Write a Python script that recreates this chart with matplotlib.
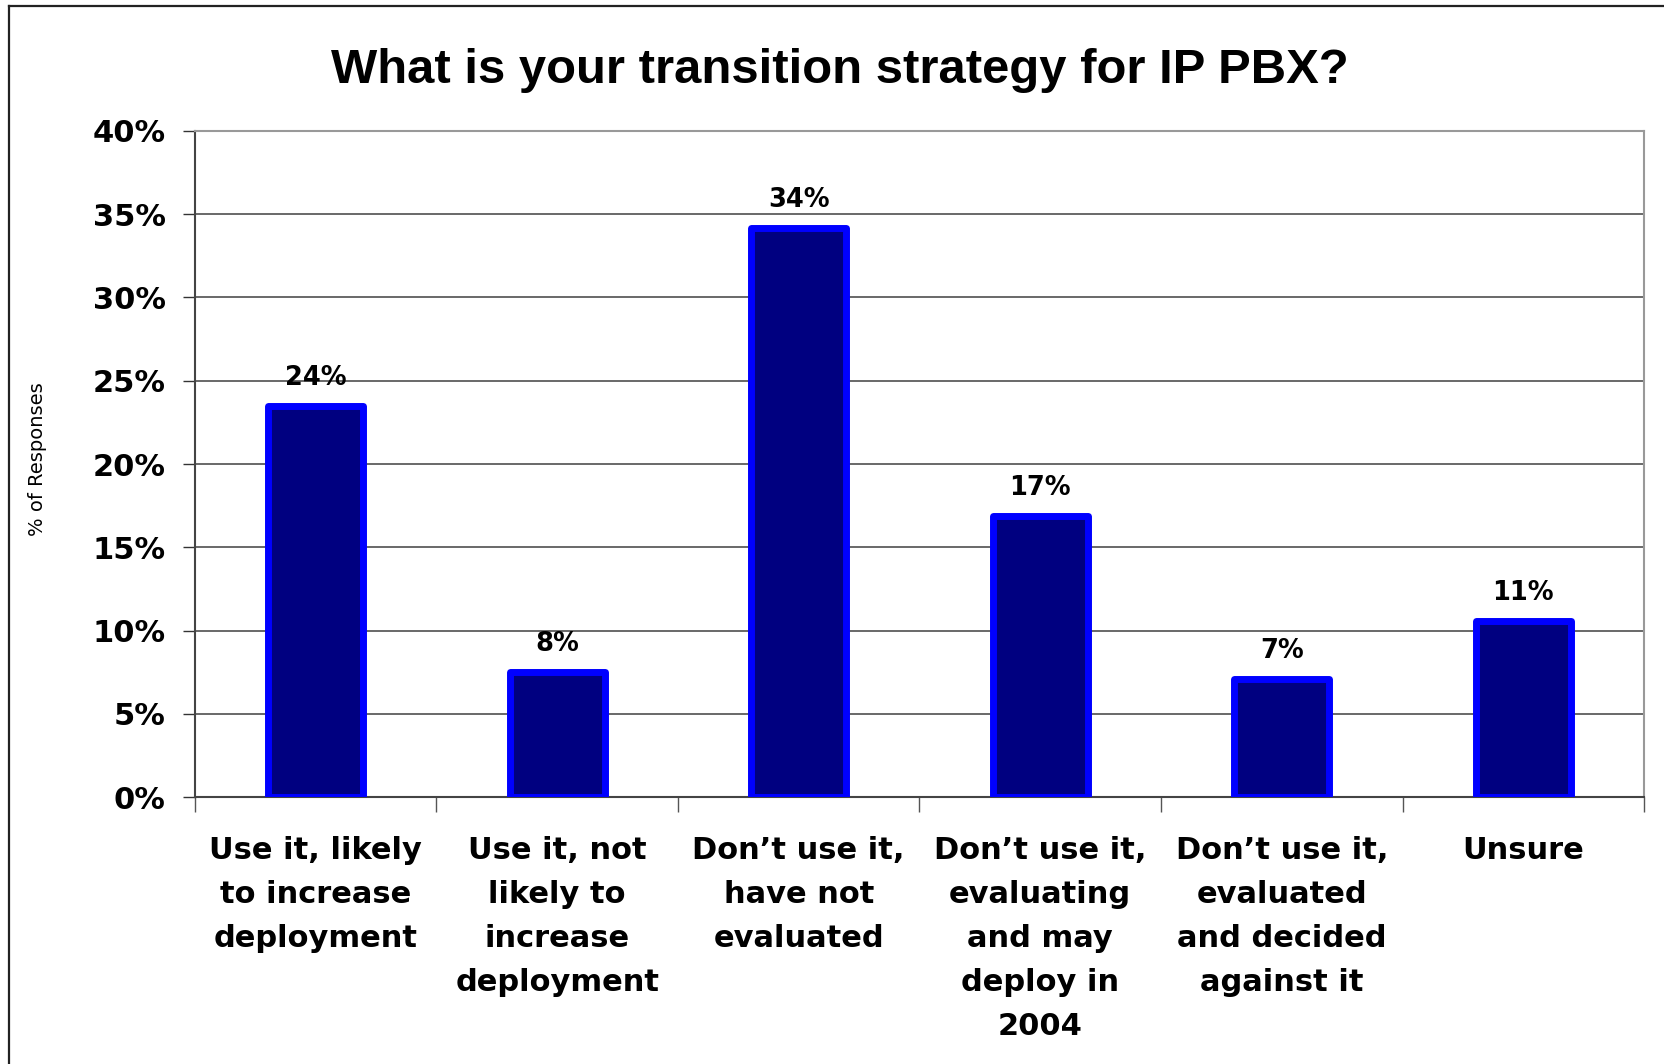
import matplotlib.pyplot as plt
from matplotlib.lines import Line2D

plt.rcParams["font.family"] = ["DejaVu Sans"]

# Survey answers
categories = [
    "Use it, likely\nto increase\ndeployment",
    "Use it, not\nlikely to\nincrease\ndeployment",
    "Don\u2019t use it,\nhave not\nevaluated",
    "Don\u2019t use it,\nevaluating\nand may\ndeploy in\n2004",
    "Don\u2019t use it,\nevaluated\nand decided\nagainst it",
    "Unsure",
]
responses = [23.5, 7.5, 34.2, 16.9, 7.1, 10.6]
yticks = [0, 5, 10, 15, 20, 25, 30, 35, 40]

fig = plt.figure(figsize=(16.65, 10.64), dpi=100)
ax = fig.add_axes([0.1171, 0.2509, 0.8703, 0.6260])

x = list(range(len(categories)))
bars = ax.bar(x, responses, width=0.395, color="#000080", edgecolor="#0000FF",
              linewidth=5, joinstyle="round", zorder=3)

for xi, v in zip(x, responses):
    ax.annotate(f"{v:.0f}%", (xi, v), xytext=(0, 15), textcoords="offset points",
                ha="center", va="baseline", fontsize=18.5, fontweight="bold")

ax.set_xlim(-0.5, len(categories) - 0.5)
ax.set_ylim(0, 40)
ax.set_yticks(yticks)
ax.set_yticklabels([f"{t}%" for t in yticks], fontsize=22, fontweight="bold")
ax.tick_params(axis="y", length=9, width=1, color="#333333", pad=12)

ax.set_xticks(x)
ax.set_xticklabels(categories, fontsize=22, fontweight="bold", linespacing=1.65)
ax.tick_params(axis="x", which="major", length=0, pad=28)
ax.set_xticks([i + 0.5 for i in range(-1, len(categories))], minor=True)
ax.tick_params(axis="x", which="minor", length=11, width=1, color="#555555")

ax.grid(axis="y", color="#404040", linewidth=1.1, zorder=0)
ax.set_axisbelow(True)

ax.spines["left"].set_color("#444444")
ax.spines["bottom"].set_color("#444444")
ax.spines["top"].set_color("#999999")
ax.spines["right"].set_color("#999999")
for s in ax.spines.values():
    s.set_linewidth(1.5)

fig.text(38 / 1665, 1 - 459 / 1064, "% of Responses", rotation=90,
         ha="center", va="center", fontsize=14)

fig.text(840 / 1665, 1 - 83 / 1064, "What is your transition strategy for IP PBX?",
         ha="center", va="baseline", fontsize=35.3, fontweight="bold",
         family="Liberation Sans")

# outer chart border (only the top and left edges fall inside the canvas)
fig.add_artist(Line2D([9 / 1665, 9 / 1665], [0, 1 - 6 / 1064],
                      transform=fig.transFigure, color="#222222", linewidth=1.6))
fig.add_artist(Line2D([9 / 1665, 1], [1 - 6 / 1064, 1 - 6 / 1064],
                      transform=fig.transFigure, color="#222222", linewidth=1.6))

fig.savefig("out.png", dpi=100)
